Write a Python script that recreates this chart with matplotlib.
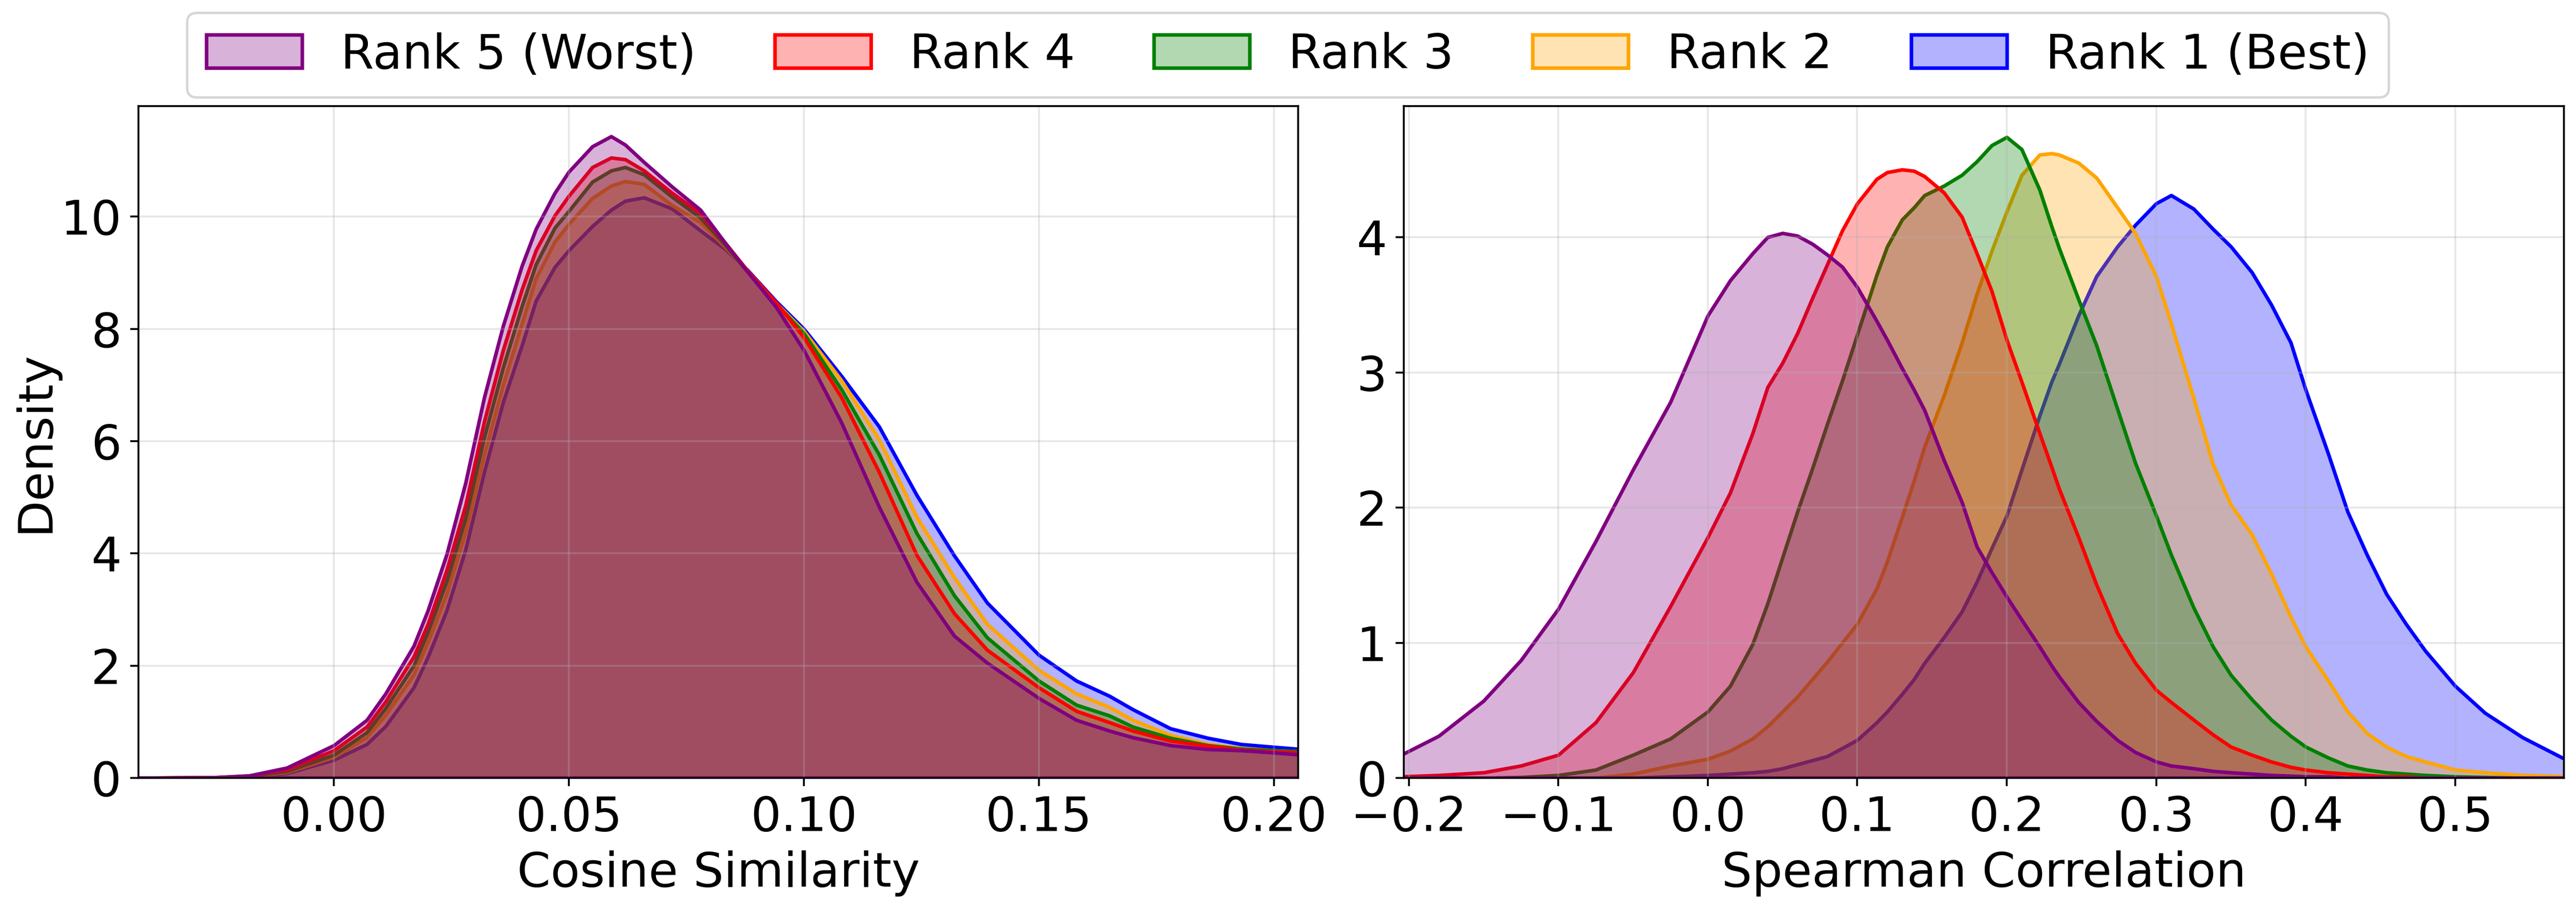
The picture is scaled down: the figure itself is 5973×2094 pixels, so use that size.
import numpy as np
import matplotlib
matplotlib.use('Agg')
import matplotlib.pyplot as plt
from matplotlib.patches import Patch
from matplotlib.colors import to_rgba


# --- DANE: gestosc (KDE) ---

labels = ['Rank 5 (Worst)', 'Rank 4', 'Rank 3', 'Rank 2', 'Rank 1 (Best)']
colors = ['purple', 'red', 'green', 'orange', 'blue']

# lewy panel - Cosine Similarity
cos_x = [-0.042, -0.025, -0.018, -0.010, 0.000, 0.007, 0.011, 0.017, 0.020, 0.024,
         0.028, 0.032, 0.036, 0.040, 0.043, 0.047, 0.050, 0.055, 0.059, 0.062,
         0.066, 0.072, 0.078, 0.083, 0.088, 0.094, 0.100, 0.108, 0.116, 0.124,
         0.132, 0.139, 0.150, 0.158, 0.165, 0.170, 0.178, 0.186, 0.193, 0.200,
         0.206]

cos_rank5 = [0.0, 0.01, 0.04, 0.18, 0.58, 1.03, 1.50, 2.35, 2.98, 3.98,
             5.25, 6.78, 8.05, 9.12, 9.78, 10.42, 10.80, 11.25, 11.43, 11.28,
             10.97, 10.53, 10.12, 9.56, 9.02, 8.40, 7.62, 6.33, 4.83, 3.49,
             2.53, 2.05, 1.42, 1.03, 0.84, 0.72, 0.58, 0.51, 0.49, 0.45,
             0.41]
cos_rank4 = [0.0, 0.01, 0.04, 0.15, 0.49, 0.91, 1.36, 2.16, 2.74, 3.70,
             4.85, 6.35, 7.62, 8.70, 9.40, 10.02, 10.37, 10.88, 11.05, 11.02,
             10.82, 10.42, 10.06, 9.56, 9.04, 8.48, 7.85, 6.78, 5.45, 3.97,
             2.93, 2.28, 1.61, 1.19, 0.99, 0.84, 0.66, 0.57, 0.50, 0.47,
             0.45]
cos_rank3 = [0.0, 0.01, 0.03, 0.12, 0.41, 0.81, 1.24, 2.00, 2.60, 3.50,
             4.62, 6.07, 7.31, 8.40, 9.15, 9.80, 10.10, 10.62, 10.82, 10.88,
             10.75, 10.35, 9.98, 9.52, 9.02, 8.46, 7.92, 6.92, 5.76, 4.36,
             3.25, 2.50, 1.73, 1.30, 1.11, 0.91, 0.71, 0.58, 0.52, 0.49,
             0.47]
cos_rank2 = [0.0, 0.01, 0.03, 0.10, 0.37, 0.72, 1.12, 1.84, 2.42, 3.28,
             4.38, 5.76, 7.00, 8.09, 8.90, 9.55, 9.87, 10.33, 10.55, 10.63,
             10.58, 10.20, 9.90, 9.48, 9.02, 8.47, 7.96, 7.08, 6.03, 4.65,
             3.57, 2.74, 1.92, 1.50, 1.26, 1.03, 0.76, 0.60, 0.53, 0.49,
             0.47]
cos_rank1 = [0.0, 0.0, 0.02, 0.08, 0.32, 0.60, 0.92, 1.61, 2.15, 2.98,
             4.06, 5.45, 6.69, 7.70, 8.50, 9.10, 9.40, 9.83, 10.12, 10.28,
             10.34, 10.14, 9.75, 9.44, 9.05, 8.50, 8.00, 7.16, 6.26, 5.04,
             3.96, 3.12, 2.19, 1.73, 1.46, 1.22, 0.88, 0.71, 0.60, 0.55,
             0.51]

# prawy panel - Spearman Correlation
sp_x = [-0.205, -0.18, -0.15, -0.125, -0.10, -0.075, -0.05, -0.025, 0.0, 0.015,
        0.03, 0.04, 0.05, 0.06, 0.07, 0.08, 0.09, 0.10, 0.113, 0.12,
        0.13, 0.138, 0.145, 0.158, 0.17, 0.18, 0.19, 0.20, 0.21, 0.222,
        0.23, 0.235, 0.248, 0.26, 0.274, 0.286, 0.30, 0.31, 0.325, 0.338,
        0.35, 0.364, 0.377, 0.39, 0.40, 0.415, 0.428, 0.441, 0.454, 0.467,
        0.48, 0.50, 0.52, 0.545, 0.575]

sp_rank5 = [0.17, 0.31, 0.57, 0.87, 1.25, 1.75, 2.28, 2.78, 3.42, 3.68,
            3.88, 4.00, 4.03, 4.01, 3.95, 3.87, 3.78, 3.63, 3.38, 3.24,
            3.03, 2.87, 2.72, 2.35, 2.04, 1.71, 1.52, 1.34, 1.17, 0.97,
            0.83, 0.75, 0.56, 0.42, 0.28, 0.19, 0.12, 0.09, 0.07, 0.05,
            0.04, 0.03, 0.02, 0.015, 0.01, 0.01, 0.0, 0.0, 0.0, 0.0,
            0.0, 0.0, 0.0, 0.0, 0.0]
sp_rank4 = [0.01, 0.02, 0.04, 0.09, 0.17, 0.41, 0.78, 1.27, 1.78, 2.11,
            2.55, 2.89, 3.07, 3.29, 3.55, 3.80, 4.05, 4.25, 4.43, 4.48,
            4.50, 4.49, 4.45, 4.33, 4.15, 3.88, 3.60, 3.24, 2.93, 2.55,
            2.30, 2.14, 1.78, 1.43, 1.07, 0.85, 0.65, 0.56, 0.43, 0.32,
            0.23, 0.17, 0.12, 0.08, 0.06, 0.04, 0.03, 0.02, 0.01, 0.01,
            0.0, 0.0, 0.0, 0.0, 0.0]
sp_rank3 = [0.0, 0.0, 0.0, 0.005, 0.02, 0.06, 0.17, 0.29, 0.49, 0.68,
            0.99, 1.29, 1.63, 1.97, 2.29, 2.62, 2.94, 3.28, 3.72, 3.93,
            4.13, 4.22, 4.31, 4.38, 4.46, 4.56, 4.68, 4.74, 4.65, 4.35,
            4.08, 3.92, 3.54, 3.20, 2.73, 2.33, 1.94, 1.65, 1.26, 0.97,
            0.76, 0.58, 0.43, 0.31, 0.23, 0.15, 0.09, 0.06, 0.04, 0.03,
            0.02, 0.01, 0.005, 0.0, 0.0]
sp_rank2 = [0.0, 0.0, 0.0, 0.0, 0.0, 0.0, 0.03, 0.09, 0.14, 0.20,
            0.29, 0.38, 0.49, 0.60, 0.73, 0.86, 1.00, 1.14, 1.40, 1.60,
            1.93, 2.20, 2.45, 2.83, 3.22, 3.58, 3.90, 4.19, 4.46, 4.61,
            4.62, 4.61, 4.55, 4.44, 4.22, 4.03, 3.71, 3.36, 2.81, 2.32,
            2.02, 1.80, 1.51, 1.19, 0.97, 0.72, 0.49, 0.33, 0.23, 0.16,
            0.12, 0.06, 0.04, 0.02, 0.01]
sp_rank1 = [0.0, 0.0, 0.0, 0.0, 0.0, 0.0, 0.0, 0.01, 0.02, 0.03,
            0.04, 0.05, 0.07, 0.10, 0.13, 0.16, 0.22, 0.28, 0.41, 0.49,
            0.62, 0.73, 0.85, 1.04, 1.23, 1.45, 1.70, 1.94, 2.28, 2.68,
            2.93, 3.06, 3.42, 3.71, 3.93, 4.09, 4.25, 4.31, 4.21, 4.06,
            3.93, 3.74, 3.50, 3.22, 2.87, 2.40, 1.97, 1.65, 1.36, 1.14,
            0.94, 0.68, 0.48, 0.30, 0.13]

cos_curves = [cos_rank5, cos_rank4, cos_rank3, cos_rank2, cos_rank1]
sp_curves = [sp_rank5, sp_rank4, sp_rank3, sp_rank2, sp_rank1]


# --- WYKRESY ---

plt.rcParams['font.size'] = 20

fig, axes = plt.subplots(1, 2, figsize=(5973 / 400, 2094 / 400), dpi=400)
plt.subplots_adjust(left=0.0537, right=0.9953, bottom=0.1385, top=0.8825, wspace=0.091)


def draw_kde(ax, xs, curves):
    # od Rank 1 do Rank 5 - kolejne wypelnienia przykrywaja wczesniejsze krawedzie
    for ys, c in reversed(list(zip(curves, colors))):
        ax.fill_between(xs, 0, ys, facecolor=to_rgba(c, 0.3), edgecolor=c, linewidth=1.5)
    ax.grid(True, alpha=0.3)


ax1, ax2 = axes

draw_kde(ax1, cos_x, cos_curves)
ax1.set_xlim(-0.0416, 0.2052)
ax1.set_ylim(0, 11.97)
ax1.set_xticks([0.0, 0.05, 0.10, 0.15, 0.20])
ax1.set_xticklabels(['0.00', '0.05', '0.10', '0.15', '0.20'])
ax1.set_xlabel('Cosine Similarity')
ax1.set_ylabel('Density', labelpad=1)

draw_kde(ax2, sp_x, sp_curves)
ax2.set_xlim(-0.2033, 0.5727)
ax2.set_ylim(0, 4.97)
ax2.set_xticks([-0.2, -0.1, 0.0, 0.1, 0.2, 0.3, 0.4, 0.5])
ax2.set_yticks([0, 1, 2, 3, 4])
ax2.set_xlabel('Spearman Correlation')

# Legenda wspolna nad wykresami
handles = [Patch(facecolor=to_rgba(c, 0.3), edgecolor=c, linewidth=1.5) for c in colors]
fig.legend(handles, labels, loc='upper center', bbox_to_anchor=(0.5, 1 - 30 / 2094),
           ncol=5, fontsize=20, borderaxespad=0, columnspacing=1.65)

fig.savefig('out.png', dpi=400)
